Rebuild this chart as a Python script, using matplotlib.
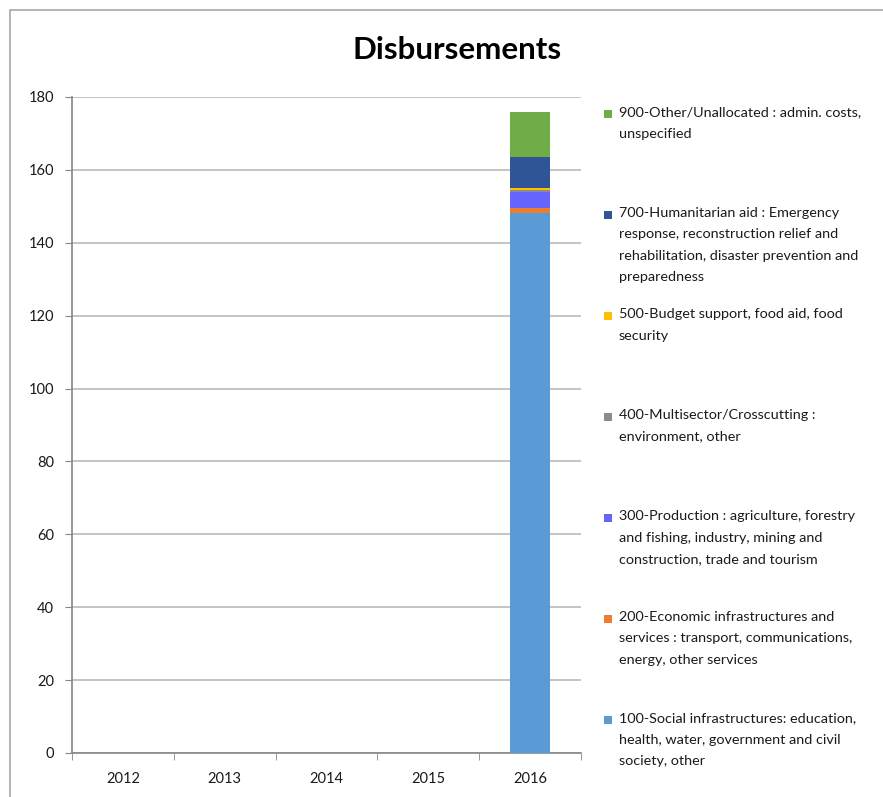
import matplotlib.pyplot as plt
from matplotlib.patches import Rectangle
import numpy as np

plt.rcParams['font.family'] = ['Lato', 'DejaVu Sans']

years = ['2012', '2013', '2014', '2015', '2016']

# disbursements per sector, stacked bottom to top
sectors = ['100', '200', '300', '400', '500', '700', '900']
values = {
    '100': [0, 0, 0, 0, 148.3],
    '200': [0, 0, 0, 0, 1.3],
    '300': [0, 0, 0, 0, 4.4],
    '400': [0, 0, 0, 0, 0.5],
    '500': [0, 0, 0, 0, 0.5],
    '700': [0, 0, 0, 0, 8.5],
    '900': [0, 0, 0, 0, 12.5],
}
labels = {
    '900': "900-Other/Unallocated : admin. costs,\nunspecified",
    '700': "700-Humanitarian aid : Emergency\nresponse, reconstruction relief and\n"
           "rehabilitation, disaster prevention and\npreparedness",
    '500': "500-Budget support, food aid, food\nsecurity",
    '400': "400-Multisector/Crosscutting :\nenvironment, other",
    '300': "300-Production : agriculture, forestry\nand fishing, industry, mining and\n"
           "construction, trade and tourism",
    '200': "200-Economic infrastructures and\nservices : transport, communications,\n"
           "energy, other services",
    '100': "100-Social infrastructures: education,\nhealth, water, government and civil\n"
           "society, other",
}
colors = {
    '100': '#5B9BD5',
    '200': '#ED7D31',
    '300': '#6666FF',
    '400': '#8C8C8C',
    '500': '#FFC000',
    '700': '#2F5597',
    '900': '#70AD47',
}

W, H = 883, 797
fig = plt.figure(figsize=(W / 100, H / 100), dpi=100)

# chart frame
fig.patches.append(Rectangle((10 / W, -0.1), 1.2, (H - 10) / H + 0.1,
                             transform=fig.transFigure, fill=False,
                             edgecolor='#A6A6A6', lw=1.2))

ax = fig.add_axes([72 / W, (H - 753) / H, (581 - 72) / W, (753 - 97) / H])

x = np.arange(len(years))
bottom = np.zeros(len(years))
for s in sectors:
    ax.bar(x, values[s], width=0.4, bottom=bottom, color=colors[s],
           linewidth=0, zorder=3)
    bottom += np.array(values[s])

ax.set_xlim(-0.5, len(years) - 0.5)
ax.set_ylim(0, 180)
ax.set_yticks(range(0, 181, 20))
ax.set_xticks(x)
ax.set_xticklabels(years)
ax.set_xticks(np.arange(-0.5, len(years), 1), minor=True)
ax.tick_params(axis='x', which='major', length=0, pad=14, labelsize=10.5,
               colors='#1a1a1a')
ax.tick_params(axis='x', which='minor', length=5, color='#868686')
ax.tick_params(axis='y', length=5, color='#868686', labelsize=10.5,
               labelcolor='#1a1a1a', pad=8)
ax.grid(axis='y', color='#BFBFBF', lw=1.3, zorder=0)
for side in ['top', 'right']:
    ax.spines[side].set_visible(False)
for side in ['left', 'bottom']:
    ax.spines[side].set_color('#868686')
    ax.spines[side].set_linewidth(1.2)

fig.text(457 / W, 1 - 50 / H, 'Disbursements', ha='center', va='center',
         fontsize=22.5, fontweight='bold')

# legend, top entry first
for i, s in enumerate(reversed(sectors)):
    ytop = 106 + i * 101
    fig.patches.append(Rectangle((604 / W, 1 - (ytop + 12) / H), 8 / W, 8 / H,
                                 transform=fig.transFigure,
                                 facecolor=colors[s], edgecolor='none'))
    fig.text(619 / W, 1 - ytop / H, labels[s], ha='left', va='top',
             fontsize=10.4, linespacing=1.95, color='#1a1a1a')

fig.savefig('out.png', dpi=100)
